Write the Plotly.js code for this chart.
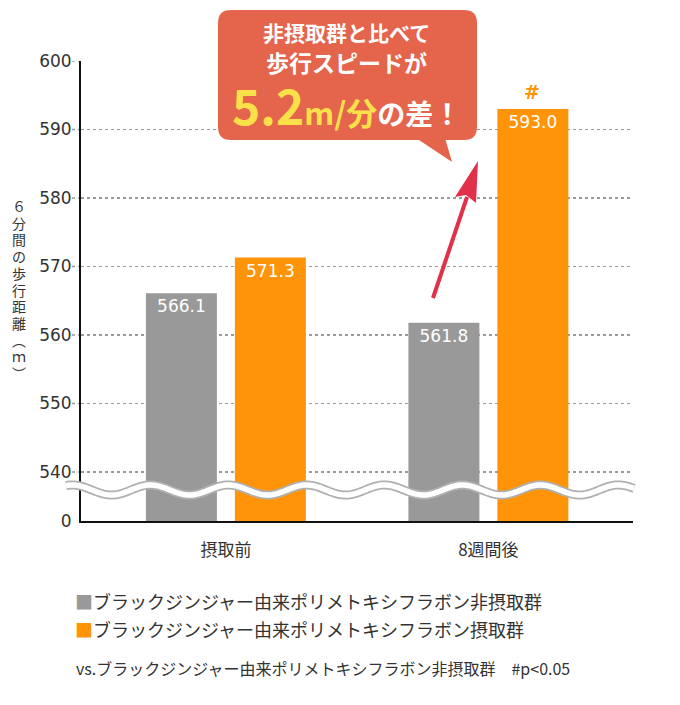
<!DOCTYPE html>
<html><head><meta charset="utf-8">
<script src="https://cdn.plot.ly/plotly-3.0.1.min.js"></script>
<style>html,body{margin:0;padding:0;background:#fff}#chart{width:680px;height:705px}</style>
</head><body><div id="chart"></div>
<script>
// ---- data ----
const categories = ['摂取前', '8週間後'];
const nonIntakeValues = [566.1, 561.8];
const intakeValues = [571.3, 593.0];
const seriesNames = ['ブラックジンジャー由来ポリメトキシフラボン非摂取群', 'ブラックジンジャー由来ポリメトキシフラボン摂取群'];
const yTickVals = [540, 550, 560, 570, 580, 590, 600];
const yAxisTitle = ['６','分','間','の','歩','行','距','離','︵','ｍ','︶'];
const calloutLines = ['非摂取群と比べて', '歩行スピードが'];
const calloutDiff = '5.2';
const calloutUnit = 'm/分';
const calloutTail = 'の差！';
const sigMark = '#';
const footnote = 'vs.ブラックジンジャー由来ポリメトキシフラボン非摂取群　#p<0.05';

// ---- layout helpers ----
const W = 680, H = 705, L = 81, R = 633, T = 61, B = 521;
const yTop = 600, yBreakTick = 540;
const yMin = yTop - (B - T) / ((472 - T) / (yTop - yBreakTick));
const px = x => (x - L) / (R - L);
const py = y => (B - y) / (B - T);

const GRAY = '#999999', ORANGE = '#FF9409', TXT = '#333333';
const CJK = '"Noto Sans CJK JP", "Noto Sans", sans-serif';
const NUM = '"DejaVu Sans", sans-serif';

const traces = [
  {type: 'bar', x: categories, y: nonIntakeValues, name: seriesNames[0],
   marker: {color: GRAY}, texttemplate: '%{y:.1f}', textposition: 'inside',
   insidetextanchor: 'end', textangle: 0, constraintext: 'none',
   textfont: {family: NUM, size: 17, color: '#ffffff'}, hoverinfo: 'skip'},
  {type: 'bar', x: categories, y: intakeValues, name: seriesNames[1],
   marker: {color: ORANGE}, texttemplate: '%{y:.1f}', textposition: 'inside',
   insidetextanchor: 'end', textangle: 0, constraintext: 'none',
   textfont: {family: NUM, size: 17, color: '#ffffff'}, hoverinfo: 'skip'}
];

function roundRect(x0, y0, x1, y1, r) {
  const rx = r / (R - L), ry = r / (B - T);
  const X0 = px(x0), X1 = px(x1), Y0 = py(y0), Y1 = py(y1);
  return `M${X0 + rx},${Y0} L${X1 - rx},${Y0} Q${X1},${Y0} ${X1},${Y0 - ry} ` +
         `L${X1},${Y1 + ry} Q${X1},${Y1} ${X1 - rx},${Y1} L${X0 + rx},${Y1} ` +
         `Q${X0},${Y1} ${X0},${Y1 + ry} L${X0},${Y0 - ry} Q${X0},${Y0} ${X0 + rx},${Y0} Z`;
}
function poly(pts) {
  return 'M' + pts.map(p => `${px(p[0])},${py(p[1])}`).join(' L') + ' Z';
}
function wavePath(x0, x1, yc, amp, period, phaseX) {
  let d = '';
  for (let x = x0; x <= x1; x += 2) {
    const y = yc - amp * Math.sin(2 * Math.PI * (x - phaseX) / period);
    d += (d ? ' L' : 'M') + `${px(x)},${py(y)}`;
  }
  return d;
}
const wave = wavePath(66, 634, 490, 5, 78, 131);

const shapes = [];
// dotted grid stubs left of the y axis line
yTickVals.forEach(v => {
  shapes.push({type: 'line', xref: 'paper', yref: 'y', x0: px(72), x1: px(81), y0: v, y1: v,
    line: {color: '#9a9a9a', width: 1.5, dash: 'dot'}, layer: 'below'});
});
shapes.push(
  {type: 'path', xref: 'paper', yref: 'paper', path: wave, layer: 'above',
   line: {color: '#b0b0b0', width: 9}},
  {type: 'path', xref: 'paper', yref: 'paper', path: wave, layer: 'above',
   line: {color: '#ffffff', width: 5.5}},
  {type: 'path', xref: 'paper', yref: 'paper', path: roundRect(218, 10, 477, 140, 13),
   fillcolor: '#E5644C', line: {width: 0}, layer: 'above'},
  {type: 'path', xref: 'paper', yref: 'paper', path: poly([[416, 138], [445, 138], [452, 162]]),
   fillcolor: '#E5644C', line: {width: 0}, layer: 'above'},
  {type: 'line', xref: 'paper', yref: 'paper', x0: px(433), y0: py(298), x1: px(467), y1: py(197),
   line: {color: '#E0304A', width: 4}, layer: 'above'},
  {type: 'path', xref: 'paper', yref: 'paper',
   path: poly([[478, 161], [455, 197], [466, 195], [476, 203]]),
   fillcolor: '#E0304A', line: {width: 0}, layer: 'above'}
);

const annotations = [];
yAxisTitle.forEach((ch, i) => {
  annotations.push({xref: 'paper', yref: 'paper', x: px(19), y: py(206 + i * 16.7),
    xanchor: 'center', yanchor: 'middle', showarrow: false, text: ch, borderpad: 0,
    font: {family: CJK, size: 14, color: TXT}});
});
annotations.push(
  {xref: 'paper', yref: 'paper', x: px(346), y: py(32), xanchor: 'center', yanchor: 'middle',
   showarrow: false, text: '<b>' + calloutLines[0] + '</b>', font: {family: CJK, size: 21, color: '#ffffff'}},
  {xref: 'paper', yref: 'paper', x: px(346), y: py(62), xanchor: 'center', yanchor: 'middle',
   showarrow: false, text: '<b>' + calloutLines[1] + '</b>', font: {family: CJK, size: 23, color: '#ffffff'}},
  {xref: 'paper', yref: 'paper', x: px(346), y: py(104), xanchor: 'center', yanchor: 'middle',
   showarrow: false,
   text: `<b><span style="font-size:48px;color:#FAE14A">${calloutDiff}</span>` +
         `<span style="font-size:31px;color:#FAE14A">${calloutUnit}</span>` +
         `<span style="font-size:28px;color:#ffffff">${calloutTail}</span></b>`,
   font: {family: CJK, size: 28, color: '#ffffff'}},
  {xref: 'x', yref: 'y', x: 1, y: intakeValues[1], xshift: 44, yshift: 4,
   xanchor: 'center', yanchor: 'bottom', showarrow: false,
   text: '<b>' + sigMark + '</b>', font: {family: NUM, size: 19, color: ORANGE}},
  {xref: 'paper', yref: 'paper', x: px(73), y: py(601), xanchor: 'left', yanchor: 'middle',
   showarrow: false, text: `<span style="color:${GRAY}">■</span>` + seriesNames[0],
   font: {family: CJK, size: 18, color: TXT}},
  {xref: 'paper', yref: 'paper', x: px(73), y: py(629), xanchor: 'left', yanchor: 'middle',
   showarrow: false, text: `<span style="color:${ORANGE}">■</span>` + seriesNames[1],
   font: {family: CJK, size: 18, color: TXT}},
  {xref: 'paper', yref: 'paper', x: px(74), y: py(668), xanchor: 'left', yanchor: 'middle',
   showarrow: false, text: footnote, font: {family: CJK, size: 16, color: TXT}}
);

const layout = {
  width: W, height: H,
  margin: {l: L, r: W - R, t: T, b: H - B, pad: 0},
  paper_bgcolor: '#ffffff', plot_bgcolor: '#ffffff',
  showlegend: false,
  barmode: 'group', bargap: 0.322, bargroupgap: 0.202,
  xaxis: {type: 'category', range: [-0.552, 1.551], showgrid: false, zeroline: false,
    showline: true, linecolor: '#111111', linewidth: 2,
    ticks: 'outside', ticklen: 13, tickcolor: 'rgba(0,0,0,0)',
    tickfont: {family: CJK, size: 17, color: TXT}, fixedrange: true},
  yaxis: {range: [yMin, yTop], showline: true, linecolor: '#111111', linewidth: 2,
    zeroline: false, showgrid: true, gridcolor: '#9a9a9a', gridwidth: 1.5, griddash: 'dot',
    tickmode: 'array', tickvals: [yMin].concat(yTickVals), ticktext: ['0'].concat(yTickVals.map(String)),
    ticks: 'outside', ticklen: 4, tickcolor: 'rgba(0,0,0,0)',
    tickfont: {family: NUM, size: 17, color: TXT}, fixedrange: true},
  shapes: shapes,
  annotations: annotations
};

Plotly.newPlot('chart', traces, layout, {displayModeBar: false, staticPlot: true});
</script>
</body></html>
